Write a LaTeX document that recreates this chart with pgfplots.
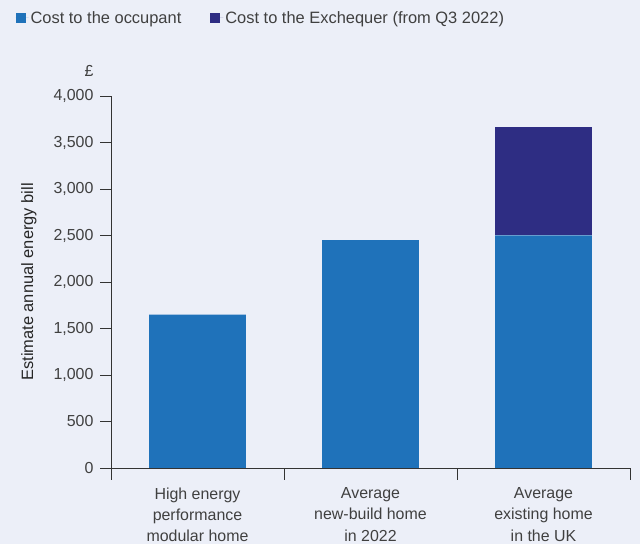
\documentclass[border=0pt]{standalone}
\usepackage{pgfplots}
\pgfplotsset{compat=1.18}
\usetikzlibrary{calc}
\usepackage{fontspec}
\setmainfont{Liberation Sans}
\definecolor{bg}{HTML}{ECEFF8}
\definecolor{occ}{HTML}{1F72BA}
\definecolor{exq}{HTML}{2E2D83}
\definecolor{txt}{HTML}{404040}
\begin{document}
\begin{tikzpicture}[x=1bp,y=1bp]
\fill[bg] (0,0) rectangle (640,544);
\begin{axis}[
  at={(111bp,76bp)}, anchor=south west,
  scale only axis, width=519bp, height=372bp,
  ybar stacked, bar width=0.56,
  xmin=-0.5, xmax=2.5, ymin=0, ymax=4000,
  axis lines=left, axis line style={draw=black!80, line width=0.8pt, -},
  tick align=outside,
  major tick length=11bp, minor tick length=12bp,
  xtick={0,1,2},
  minor xtick={-0.5,0.5,1.5,2.5},
  major x tick style={draw=none},
  minor x tick style={draw=black!80, line width=0.8pt},
  ytick={0,500,...,4000},
  y tick style={draw=black!80, line width=0.8pt},
  xticklabels={{High energy\\performance\\modular home},{Average\\new-build home\\in 2022},{Average\\existing home\\in the UK}},
  xticklabel style={align=center, font=\fontsize{16}{21.5}\selectfont, text=txt, yshift=-5bp},
  yticklabel style={font=\fontsize{16}{18}\selectfont, text=txt, xshift=-3bp},
  /pgf/number format/assume math mode=true,
  /pgf/number format/1000 sep={,},
  ylabel={Estimate annual energy bill},
  ylabel style={at={(axis description cs:-0.158,0.5)}, anchor=center, font=\fontsize{16.5}{18}\selectfont, text=black!85},
  legend columns=2,
  legend style={at={(axis description cs:-0.19,1.21)}, anchor=west, draw=none, fill=none,
    font=\fontsize{16.5}{18}\selectfont, text=txt,
    /tikz/every even column/.append style={column sep=27bp}},
  legend image code/.code={\path (0bp,0bp) -- (13bp,0bp);\fill[#1] (0bp,-5bp) rectangle (10bp,5bp);},
  clip=false,
]
\addplot[fill=occ, draw=none] coordinates {(0,1650) (1,2450) (2,2500)};
\addplot[fill=exq, draw=none] coordinates {(0,0) (1,0) (2,1170)};
\legend{Cost to the occupant, Cost to the Exchequer (from Q3 2022)}
\node[font=\fontsize{16}{18}\selectfont, text=txt] at ($(axis description cs:0,1)+(-22bp,25bp)$) {£};
\end{axis}
\pgfresetboundingbox
\path (0,0) rectangle (640,544);
\end{tikzpicture}
\end{document}
